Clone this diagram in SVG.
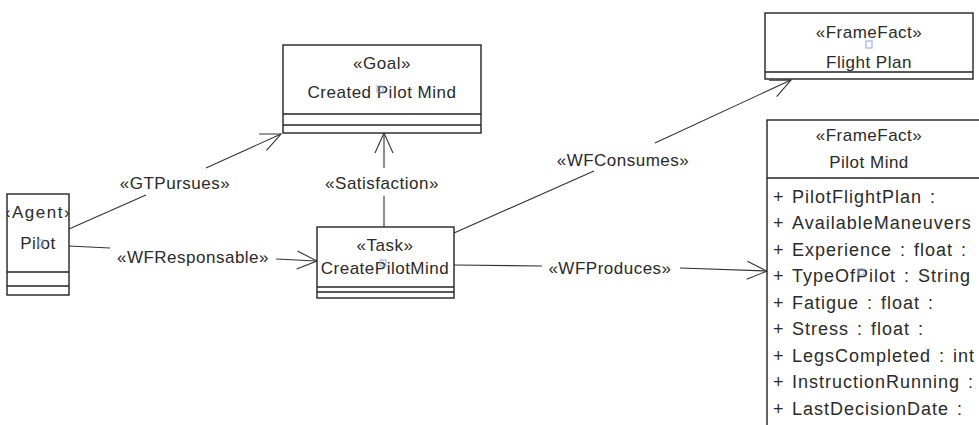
<svg xmlns="http://www.w3.org/2000/svg" width="979" height="425" viewBox="0 0 979 425">
<style>
.box{fill:#fff;stroke:#222;stroke-width:1.4}
.div{stroke:#222;stroke-width:1.4}
.t{font-family:"Liberation Sans",Arial,sans-serif;font-size:17px;fill:#2a2a2a;letter-spacing:0.5px}
.a{font-family:"Liberation Sans",Arial,sans-serif;font-size:18px;fill:#2a2a2a;letter-spacing:1px;word-spacing:2px}
.c{text-anchor:middle}
.e{fill:none;stroke:#333;stroke-width:1.1}
.cur{fill:none;stroke:#8fa8d8;stroke-width:1}
</style>
<defs>
<marker id="open" viewBox="0 0 22 20" refX="21" refY="10" markerWidth="22" markerHeight="20" markerUnits="userSpaceOnUse" orient="auto">
<path d="M1,1 L21,10 L1,19" fill="none" stroke="#333" stroke-width="1.1"/>
</marker>
<clipPath id="clipAgent"><rect x="7" y="194" width="62" height="101"/></clipPath>
</defs>
<rect width="979" height="425" fill="#fff"/>

<g id="connectors">
<!-- GTPursues -->
<line class="e" x1="69" y1="229" x2="146" y2="195"/>
<line class="e" x1="206" y1="168" x2="281" y2="134" marker-end="url(#open)"/>
<text class="t c" x="175" y="189">«GTPursues»</text>
<!-- WFResponsable -->
<line class="e" x1="69" y1="246" x2="110" y2="248"/>
<line class="e" x1="276" y1="259" x2="317" y2="261" marker-end="url(#open)"/>
<text class="t c" x="193" y="263">«WFResponsable»</text>
<!-- Satisfaction -->
<line class="e" x1="384" y1="227" x2="384" y2="196"/>
<line class="e" x1="384" y1="168" x2="384" y2="133" marker-end="url(#open)"/>
<text class="t c" x="382" y="189">«Satisfaction»</text>
<!-- WFConsumes -->
<line class="e" x1="454" y1="233" x2="594" y2="171"/>
<line class="e" x1="655" y1="143" x2="791" y2="80" marker-end="url(#open)"/>
<text class="t c" x="623" y="166">«WFConsumes»</text>
<!-- WFProduces -->
<line class="e" x1="454" y1="265" x2="542" y2="266"/>
<line class="e" x1="680" y1="268" x2="767" y2="271" marker-end="url(#open)"/>
<text class="t c" x="610" y="274">«WFProduces»</text>
</g>

<g id="agent-pilot">
<rect class="box" x="7" y="194" width="62" height="101"/>
<line class="div" x1="7" y1="272" x2="69" y2="272"/>
<line class="div" x1="7" y1="286" x2="69" y2="286"/>
<g clip-path="url(#clipAgent)">
<text class="t c" x="38" y="218" style="letter-spacing:1.5px">«Agent»</text>
</g>
<text class="t c" x="38" y="249">Pilot</text>
<rect class="cur" x="38" y="240" width="5" height="6"/>
</g>

<g id="goal-created-pilot-mind">
<rect class="box" x="283" y="45" width="198" height="88"/>
<line class="div" x1="283" y1="114" x2="481" y2="114"/>
<line class="div" x1="283" y1="125" x2="481" y2="125"/>
<text class="t c" x="382" y="69">«Goal»</text>
<text class="t c" x="382" y="98">Created Pilot Mind</text>
<rect class="cur" x="377" y="86" width="6" height="6"/>
</g>

<g id="task-create-pilot-mind">
<rect class="box" x="317" y="227" width="137" height="71"/>
<line class="div" x1="317" y1="287" x2="454" y2="287"/>
<line class="div" x1="317" y1="292" x2="454" y2="292"/>
<text class="t c" x="385" y="251">«Task»</text>
<text class="t c" x="385" y="274">CreatePilotMind</text>
<rect class="cur" x="380" y="260" width="6" height="6"/>
</g>

<g id="framefact-flight-plan">
<rect class="box" x="765" y="13" width="208" height="66"/>
<line class="div" x1="765" y1="72" x2="973" y2="72"/>
<text class="t c" x="869" y="38">«FrameFact»</text>
<text class="t c" x="869" y="68">Flight Plan</text>
<rect class="cur" x="866" y="41" width="6" height="7"/>
</g>

<g id="framefact-pilot-mind">
<rect class="box" x="767" y="120" width="240" height="330"/>
<line class="div" x1="767" y1="178" x2="985" y2="178"/>
<text class="t c" x="869" y="141">«FrameFact»</text>
<text class="t c" x="869" y="168">Pilot Mind</text>
<text class="a" x="773" y="203">+</text><text class="a" x="792" y="203">PilotFlightPlan :</text>
<text class="a" x="773" y="229">+</text><text class="a" x="792" y="229">AvailableManeuvers</text>
<text class="a" x="773" y="256">+</text><text class="a" x="792" y="256">Experience : float :</text>
<text class="a" x="773" y="282">+</text><text class="a" x="792" y="282">TypeOfPilot : String</text>
<rect class="cur" x="858" y="269" width="6" height="6"/>
<text class="a" x="773" y="309">+</text><text class="a" x="792" y="309">Fatigue : float :</text>
<text class="a" x="773" y="335">+</text><text class="a" x="792" y="335">Stress : float :</text>
<text class="a" x="773" y="362">+</text><text class="a" x="792" y="362">LegsCompleted : int</text>
<text class="a" x="773" y="388">+</text><text class="a" x="792" y="388">InstructionRunning :</text>
<text class="a" x="773" y="415">+</text><text class="a" x="792" y="415">LastDecisionDate :</text>
</g>
</svg>
